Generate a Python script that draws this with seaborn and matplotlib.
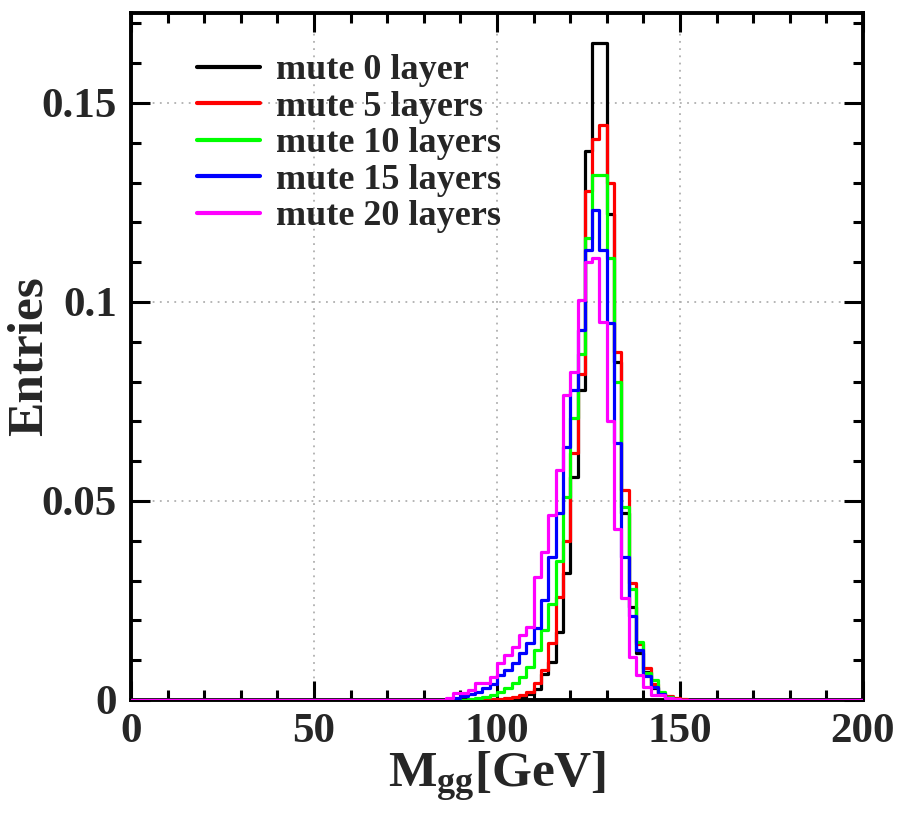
import numpy as np
import pandas as pd
import matplotlib
matplotlib.use("Agg")
import matplotlib.pyplot as plt
from matplotlib.lines import Line2D
from matplotlib.ticker import MultipleLocator
import seaborn as sns

# ---------------- data (normalised entries per 2 GeV bin) ----------------
bin_width = 2
x_min, x_max = 0, 200
window_start = 84  # first bin shown in the arrays below (84..150 GeV, 34 bins)

mute_0 = [0, 0, 0, 0, 0, 0, 0, 0, 0.0001, 0.0002, 0.0004, 0.0008, 0.0015,
          0.0028, 0.0065, 0.0095, 0.017, 0.032, 0.056, 0.078, 0.138, 0.165,
          0.165, 0.122, 0.085, 0.047, 0.0234, 0.0118, 0.007, 0.003, 0.0015,
          0.0008, 0.0003, 0]
mute_5 = [0, 0, 0, 0, 0, 0, 0.0002, 0.0002, 0.0003, 0.0005, 0.0008, 0.0013,
          0.0021, 0.0042, 0.0075, 0.0142, 0.026, 0.040, 0.062, 0.082, 0.128,
          0.141, 0.1445, 0.130, 0.0875, 0.0528, 0.0295, 0.014, 0.008, 0.004,
          0.0018, 0.001, 0.0005, 0.0002]
mute_10 = [0, 0, 0, 0, 0.0002, 0.0004, 0.0008, 0.0013, 0.002, 0.003, 0.0042,
           0.0059, 0.0084, 0.0126, 0.0176, 0.024, 0.035, 0.051, 0.0708, 0.087,
           0.116, 0.132, 0.132, 0.111, 0.080, 0.0486, 0.028, 0.0146, 0.0067,
           0.005, 0.002, 0.0008, 0.0003, 0]
mute_15 = [0, 0.0002, 0.0005, 0.001, 0.0015, 0.002, 0.003, 0.004, 0.0063,
           0.0075, 0.0092, 0.0117, 0.0142, 0.018, 0.025, 0.036, 0.047, 0.0636,
           0.078, 0.093, 0.113, 0.123, 0.113, 0.0947, 0.0645, 0.036, 0.021,
           0.0126, 0.006, 0.0033, 0.0015, 0.0005, 0, 0]
mute_20 = [0, 0.0004, 0.0017, 0.0017, 0.0025, 0.0042, 0.0042, 0.0059, 0.0092,
           0.0113, 0.0134, 0.0163, 0.0184, 0.031, 0.0373, 0.0465, 0.0578,
           0.0766, 0.0825, 0.1005, 0.110, 0.111, 0.095, 0.070, 0.043, 0.0256,
           0.0109, 0.0063, 0.0033, 0.0013, 0.0013, 0.0004, 0.0002, 0]

series_labels = ["mute 0 layer", "mute 5 layers", "mute 10 layers",
                 "mute 15 layers", "mute 20 layers"]
series_values = [mute_0, mute_5, mute_10, mute_15, mute_20]
series_colors = ["#000000", "#ff0000", "#00ff00", "#0000ff", "#ff00ff"]

x_ticks = [0, 50, 100, 150, 200]
y_ticks = [0, 0.05, 0.1, 0.15]
y_tick_labels = ["0", "0.05", "0.1", "0.15"]

# ---------------- build full histograms ----------------
edges = np.arange(x_min, x_max + bin_width, bin_width)
centers = edges[:-1] + bin_width / 2
rows = []
for lab, vals in zip(series_labels, series_values):
    full = np.zeros(len(centers))
    i0 = (window_start - x_min) // bin_width
    full[i0:i0 + len(vals)] = vals
    rows.append(pd.DataFrame({"mgg": centers, "w": full, "series": lab}))
df = pd.concat(rows, ignore_index=True)

# ---------------- style ----------------
sns.set_theme(style="ticks")
plt.rcParams["font.family"] = ["Liberation Serif", "DejaVu Serif"]
plt.rcParams["font.weight"] = "bold"
plt.rcParams["mathtext.fontset"] = "custom"
plt.rcParams["mathtext.rm"] = "Liberation Serif:bold"
plt.rcParams["mathtext.it"] = "Liberation Serif:bold"
plt.rcParams["mathtext.bf"] = "Liberation Serif:bold"

W, H = 899, 818
fig = plt.figure(figsize=(W / 100, H / 100), dpi=100)
ax = fig.add_axes([131 / W, 1 - 700 / H, 732 / W, 687 / H])

for lab, col in zip(series_labels, series_colors):
    sub = df[df["series"] == lab]
    sns.histplot(data=sub, x="mgg", weights="w", binwidth=bin_width,
                 binrange=(x_min, x_max), element="step",
                 fill=False, color=col, linewidth=2.3, zorder=3, ax=ax)

ax.set_xlim(x_min, x_max)
ax.set_ylim(0, 0.1726)

ax.set_xticks(x_ticks)
ax.set_xticklabels([str(t) for t in x_ticks])
ax.set_yticks(y_ticks)
ax.set_yticklabels(y_tick_labels)
ax.xaxis.set_minor_locator(MultipleLocator(10))
ax.yaxis.set_minor_locator(MultipleLocator(0.01))

ax.tick_params(which="both", direction="in", top=True, right=True,
               width=2.2, color="black")
ax.tick_params(which="major", length=14, labelsize=31)
ax.tick_params(axis="y", which="major", pad=10)
ax.tick_params(axis="x", which="major", pad=9)
ax.tick_params(which="minor", length=7)
for t in ax.get_xticklabels() + ax.get_yticklabels():
    t.set_fontweight("bold")

for s in ax.spines.values():
    s.set_linewidth(2.8)
    s.set_color("black")

ax.grid(True, which="major", linestyle=(0, (1, 3)), color="#b0b0b0",
        linewidth=1.3)
ax.set_axisbelow(True)

ax.set_xlabel(r"$\mathrm{M_{gg}}$[GeV]", fontsize=37, fontweight="bold")
ax.xaxis.set_label_coords(0.5, -0.073)
ax.set_ylabel("Entries", fontsize=37, fontweight="bold")
ax.yaxis.set_label_coords(-0.107, 0.5)

handles = [Line2D([0], [0], color=c, linewidth=3) for c in series_colors]
leg = ax.legend(handles, series_labels, loc="upper left",
                bbox_to_anchor=(66 / 732, (700 - 54) / 687),
                frameon=False, fontsize=26, handlelength=1.75,
                handletextpad=0.45, labelspacing=0.09, borderpad=0,
                borderaxespad=0)
for t in leg.get_texts():
    t.set_fontweight("bold")

fig.savefig("out.png", dpi=100)
